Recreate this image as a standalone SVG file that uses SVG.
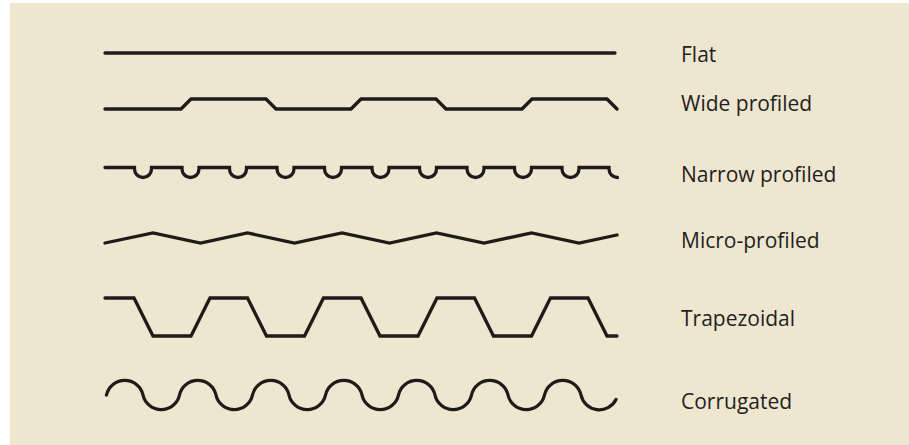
<svg xmlns="http://www.w3.org/2000/svg" width="909" height="445" viewBox="0 0 909 445">
<style>
.p{fill:none;stroke:#1e1b1a;stroke-width:3.3;stroke-linecap:round;stroke-linejoin:miter}
.t{font-family:"Open Sans","Liberation Sans",sans-serif;font-size:21px;fill:#231f20}
</style>
<rect x="0" y="0" width="909" height="445" fill="#ffffff"/>
<rect x="10" y="3" width="899" height="442" fill="#efe6d0"/>
<g id="flat">
<path class="p" d="M105 53 H615"/>
<text class="t" x="681" y="62">Flat</text>
</g>
<g id="wide">
<path class="p" d="M105 109 H181 L191 99 H266 L276 109 H351 L361 99 H436 L446 109 H522 L532 99 H607 L617 109"/>
<text class="t" x="681" y="110.5">Wide profiled</text>
</g>
<g id="narrow">
<path class="p" d="M105 167.5 H134.5 v1.5 a8.5 8.5 0 0 0 17 0 v-1.5 H182 v1.5 a8.5 8.5 0 0 0 17 0 v-1.5 H229.5 v1.5 a8.5 8.5 0 0 0 17 0 v-1.5 H277 v1.5 a8.5 8.5 0 0 0 17 0 v-1.5 H324.5 v1.5 a8.5 8.5 0 0 0 17 0 v-1.5 H372 v1.5 a8.5 8.5 0 0 0 17 0 v-1.5 H419.5 v1.5 a8.5 8.5 0 0 0 17 0 v-1.5 H467 v1.5 a8.5 8.5 0 0 0 17 0 v-1.5 H514.5 v1.5 a8.5 8.5 0 0 0 17 0 v-1.5 H562 v1.5 a8.5 8.5 0 0 0 17 0 v-1.5 H609 v1.5 a8.5 8.5 0 0 0 8.5 8.5"/>
<text class="t" x="681" y="181.5">Narrow profiled</text>
</g>
<g id="micro">
<path class="p" d="M105 243 L153 233 L200.5 243 L247.5 233 L294.5 243 L342 233 L389.5 243 L436.5 233 L484 243 L531.5 233 L579 243 L617 235"/>
<text class="t" x="681" y="247.5">Micro-profiled</text>
</g>
<g id="trapezoidal">
<path class="p" d="M105 298 H134 L153 336 H191 L210 298 H247.5 L266.5 336 H304.5 L323.5 298 H361 L380 336 H418 L437 298 H474.5 L493.5 336 H531.5 L550.5 298 H588 L607 336 H617"/>
<text class="t" x="681" y="326">Trapezoidal</text>
</g>
<g id="corrugated">
<path class="p" d="M106.5 395 A18.7 18.7 0 0 1 143 395 A18.7 18.7 0 0 0 179.5 395 A18.7 18.7 0 0 1 216 395 A18.7 18.7 0 0 0 252.5 395 A18.7 18.7 0 0 1 289 395 A18.7 18.7 0 0 0 325.5 395 A18.7 18.7 0 0 1 362 395 A18.7 18.7 0 0 0 398.5 395 A18.7 18.7 0 0 1 435 395 A18.7 18.7 0 0 0 471.5 395 A18.7 18.7 0 0 1 508 395 A18.7 18.7 0 0 0 544.5 395 A18.7 18.7 0 0 1 581 395 A18.7 18.7 0 0 0 616 399.5"/>
<text class="t" x="681" y="409">Corrugated</text>
</g>
<g id="connectors"/>
</svg>
